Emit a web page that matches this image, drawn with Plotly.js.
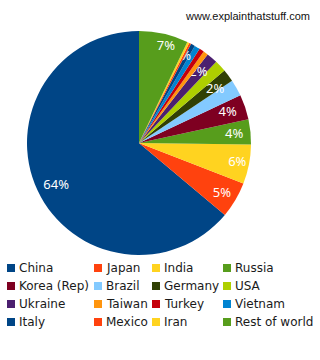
<!DOCTYPE html>
<html>
<head>
<meta charset="utf-8">
<script src="https://cdn.plot.ly/plotly-3.0.1.min.js"></script>
<style>html,body{margin:0;padding:0;background:#fff;}#chart{width:320px;height:360px;}</style>
</head>
<body>
<div id="chart"></div>
<script>
const countries = ["China","Japan","India","Russia","Korea (Rep)","Brazil","Germany","USA","Ukraine","Taiwan","Turkey","Vietnam","Italy","Mexico","Iran","Rest of world"];
const shares = [63.9, 5.2, 5.7, 3.6, 3.6, 2.4, 1.8, 1.7, 1.6, 0.7, 0.7, 0.8, 0.6, 0.3, 0.3, 7.1];
const showLabel = [true, true, true, true, true, false, true, false, true, false, false, false, true, false, false, true];
const colors = ["#004586","#ff420e","#ffd320","#579d1c","#7e0021","#83caff","#314004","#aecf00","#4b1f6f","#ff950e","#c5000b","#0084d1","#004586","#ff420e","#ffd320","#579d1c"];
const sourceText = "www.explainthatstuff.com";

const W = 320, H = 360;
const legendCols = [7, 94, 152, 223];
const legendRows = [268, 286, 304, 322];

const total = shares.reduce((a, b) => a + b, 0);
// counterclockwise from 12 o'clock: first slice starts at the top and runs to the left
const startRotation = 360 * (1 - shares[0] / total);

const shapes = [];
const annotations = [{
  text: sourceText, xref: "paper", yref: "paper",
  x: 312 / W, y: 1 - 16 / H, xanchor: "right", yanchor: "middle",
  showarrow: false, font: {family: "Liberation Sans, Arial, sans-serif", size: 11, color: "#111"}
}];
countries.forEach((name, i) => {
  const col = i % 4, row = Math.floor(i / 4);
  const x0 = legendCols[col], yc = legendRows[row];
  shapes.push({type: "rect", xref: "paper", yref: "paper",
    x0: x0 / W, x1: (x0 + 8) / W, y0: 1 - (yc + 4) / H, y1: 1 - (yc - 4) / H,
    fillcolor: colors[i], line: {width: 0}});
  annotations.push({text: name, xref: "paper", yref: "paper",
    x: (x0 + 10) / W, y: 1 - yc / H, xanchor: "left", yanchor: "middle",
    showarrow: false, font: {family: "DejaVu Sans, sans-serif", size: 12, color: "#1a1a1a"}});
});

// label nudges (blank padding around the visible text): [spaces before, spaces after, lines before, lines after]
const labelPad = {0: [0, 19, 2, 0], 2: [3, 0, 0, 0], 3: [0, 3, 0, 0], 4: [0, 4, 0, 0],
                  6: [0, 5, 1, 0], 8: [0, 6, 1, 0], 12: [0, 6, 1, 0], 15: [4, 0, 0, 1]};
const NB = "\u00a0";
const templates = showLabel.map((s, i) => {
  if (!s) return "";
  const p = labelPad[i] || [0, 0, 0, 0];
  return (NB + "<br>").repeat(p[2]) + NB.repeat(p[0]) + "%{percent:.0%}" + NB.repeat(p[1]) + ("<br>" + NB).repeat(p[3]);
});

const trace = {
  type: "pie",
  labels: countries,
  values: shares,
  sort: false,
  direction: "counterclockwise",
  rotation: startRotation,
  marker: {colors: colors, line: {width: 0}},
  texttemplate: templates,
  textposition: "inside",
  insidetextorientation: "horizontal",
  textfont: {family: "Noto Sans, sans-serif", size: 13, color: "#ffffff"},
  hoverinfo: "label+percent",
  domain: {x: [27 / W, 251 / W], y: [1 - 255 / H, 1 - 31 / H]},
  showlegend: false
};

const layout = {
  width: W, height: H,
  margin: {l: 0, r: 0, t: 0, b: 0},
  paper_bgcolor: "#ffffff",
  showlegend: false,
  uniformtext: {mode: "show", minsize: 13},
  shapes: shapes,
  annotations: annotations
};

Plotly.newPlot("chart", [trace], layout, {displayModeBar: false, staticPlot: true});
</script>
</body>
</html>
